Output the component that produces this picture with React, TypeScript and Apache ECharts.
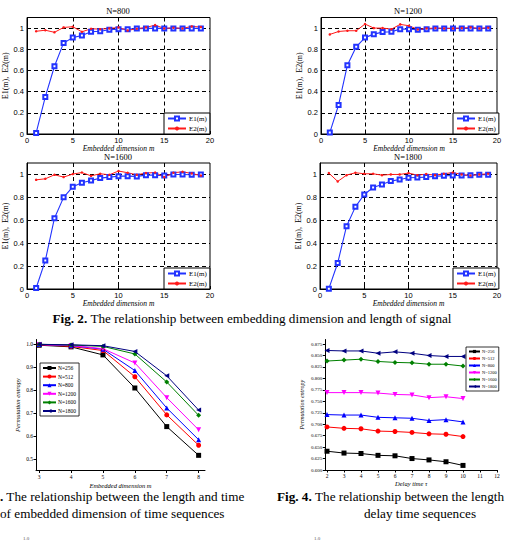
import React, { useEffect, useRef } from 'react';
import * as echarts from 'echarts';

// ---------- Data ----------
const M = [1, 2, 3, 4, 5, 6, 7, 8, 9, 10, 11, 12, 13, 14, 15, 16, 17, 18, 19];

const E1_N800 = [0.01, 0.35, 0.64, 0.86, 0.91, 0.93, 0.965, 0.97, 0.985, 0.99, 0.99, 0.995, 0.997, 0.997, 0.997, 0.997, 0.997, 0.997, 0.997];
const E2_N800 = [0.97, 0.98, 0.96, 1.006, 1.013, 0.965, 0.994, 0.99, 0.997, 1.006, 0.978, 0.994, 1.006, 1.028, 0.997, 1.003, 0.997, 1.016, 1.01];

const E1_N1200 = [0.013, 0.275, 0.65, 0.823, 0.91, 0.943, 0.962, 0.965, 0.99, 0.99, 0.985, 0.99, 0.997, 0.997, 0.997, 0.997, 0.997, 0.997, 0.997];
const E2_N1200 = [0.94, 0.968, 0.975, 0.975, 1.038, 1.0, 1.0, 0.99, 1.035, 1.022, 0.987, 0.997, 1.0, 0.997, 0.997, 1.0, 1.006, 0.997, 1.003];

const E1_N1600 = [0.009, 0.248, 0.618, 0.8, 0.892, 0.927, 0.948, 0.968, 0.977, 0.985, 0.985, 0.983, 0.994, 0.994, 0.99, 1.0, 1.0, 0.997, 1.0];
const E2_N1600 = [0.953, 0.962, 0.997, 0.977, 1.003, 1.017, 0.988, 1.006, 0.997, 1.03, 1.015, 0.997, 1.012, 1.017, 0.977, 1.015, 1.023, 1.009, 0.99];

const E1_N1800 = [0.003, 0.227, 0.548, 0.717, 0.825, 0.886, 0.913, 0.942, 0.956, 0.971, 0.974, 0.977, 0.985, 0.988, 0.991, 0.991, 0.994, 0.997, 0.997];
const E2_N1800 = [1.012, 0.939, 0.994, 1.015, 1.006, 1.006, 0.994, 1.0, 1.0, 1.012, 0.994, 1.003, 0.994, 1.006, 1.017, 1.0, 0.991, 1.0, 1.006];

const DIM = [3, 4, 5, 6, 7, 8];
const TAU = [2, 3, 4, 5, 6, 7, 8, 9, 10];
const N_NAMES = ['N=256', 'N=512', 'N=800', 'N=1200', 'N=1600', 'N=1800'];

const PE_DIM_256 = [0.995, 0.988, 0.953, 0.809, 0.641, 0.516];
const PE_DIM_512 = [0.997, 0.99, 0.972, 0.858, 0.692, 0.56];
const PE_DIM_800 = [0.998, 0.993, 0.978, 0.885, 0.722, 0.584];
const PE_DIM_1200 = [0.998, 0.994, 0.98, 0.918, 0.767, 0.627];
const PE_DIM_1600 = [0.999, 0.996, 0.99, 0.957, 0.835, 0.69];
const PE_DIM_1800 = [0.999, 0.997, 0.993, 0.968, 0.862, 0.713];

const PE_TAU_256 = [0.641, 0.637, 0.636, 0.632, 0.631, 0.625, 0.622, 0.618, 0.61];
const PE_TAU_512 = [0.694, 0.691, 0.69, 0.685, 0.684, 0.682, 0.679, 0.678, 0.673];
const PE_TAU_800 = [0.721, 0.72, 0.72, 0.715, 0.714, 0.713, 0.708, 0.71, 0.705];
const PE_TAU_1200 = [0.769, 0.769, 0.769, 0.768, 0.765, 0.764, 0.758, 0.76, 0.756];
const PE_TAU_1600 = [0.838, 0.84, 0.842, 0.837, 0.835, 0.834, 0.831, 0.831, 0.827];
const PE_TAU_1800 = [0.861, 0.86, 0.86, 0.855, 0.858, 0.855, 0.85, 0.848, 0.848];

const FIG2_X_TICKS = [0, 5, 10, 15, 20];
const FIG3_X_TICKS = [3, 4, 5, 6, 7, 8];
const FIG3_Y_TICKS = [0.5, 0.6, 0.7, 0.8, 0.9, 1.0];
const FIG4_X_TICKS = [2, 3, 4, 5, 6, 7, 8, 9, 10, 11, 12];
const FIG4_Y_TICKS = [0.6, 0.625, 0.65, 0.675, 0.7, 0.725, 0.75, 0.775, 0.8, 0.825, 0.85, 0.875];

// ---------- Styles ----------
const SERIF = "'Liberation Serif', 'Times New Roman', serif";
const SANS = "'Liberation Sans', Arial, sans-serif";
const N_COLORS = ['#000000', '#ff0000', '#0000ff', '#ff00ff', '#008000', '#000080'];
const N_SYMBOLS = ['rect', 'circle', 'triangle', 'triangle', 'diamond', 'triangle'];
const N_ROTATE = [0, 0, 0, 180, 0, 90];

const PANELS = [
  { title: 'N=800', e1: E1_N800, e2: E2_N800, grid: { left: 27, top: 17.5, width: 183, height: 116.5 }, legend: { left: 164, top: 113 }, tx: 118, ty: 11 },
  { title: 'N=1200', e1: E1_N1200, e2: E2_N1200, grid: { left: 321, top: 17.5, width: 176, height: 116.5 }, legend: { left: 453, top: 113 }, tx: 408, ty: 11 },
  { title: 'N=1600', e1: E1_N1600, e2: E2_N1600, grid: { left: 27, top: 163, width: 183, height: 126 }, legend: { left: 164, top: 268 }, tx: 118, ty: 157 },
  { title: 'N=1800', e1: E1_N1800, e2: E2_N1800, grid: { left: 320, top: 163, width: 177, height: 126 }, legend: { left: 453, top: 268 }, tx: 408, ty: 157 },
];

export default function App() {
  const ref = useRef<HTMLDivElement>(null);

  useEffect(() => {
    if (!ref.current) return;
    const chart = echarts.init(ref.current, null, { renderer: 'svg' });

    const grids: any[] = [];
    const xAxes: any[] = [];
    const yAxes: any[] = [];
    const series: any[] = [];
    const legends: any[] = [];
    const graphics: any[] = [];

    PANELS.forEach((p, i) => {
      grids.push({ ...p.grid, show: true, borderColor: '#000', borderWidth: 1, backgroundColor: '#fff' });
      xAxes.push({
        gridIndex: i, type: 'value', min: 0, max: 20, interval: 5,
        name: 'Embedded dimension m', nameLocation: 'middle', nameGap: 7,
        nameTextStyle: { fontFamily: SERIF, fontStyle: 'italic', fontWeight: 'normal', fontSize: 7.5, color: '#000', verticalAlign: 'top' },
        axisLine: { show: true, lineStyle: { color: '#000', width: 1 } },
        axisTick: { show: true, inside: true, length: 3, lineStyle: { color: '#000' } },
        axisLabel: { fontSize: 7.5, color: '#000', fontFamily: SANS, margin: 2, customValues: FIG2_X_TICKS },
        splitLine: { show: true, showMinLine: false, showMaxLine: false, lineStyle: { color: '#000', type: [4, 3], width: 1 } },
      });
      yAxes.push({
        gridIndex: i, type: 'value', min: 0, max: 1.1, interval: 0.2,
        name: 'E1(m),  E2(m)', nameLocation: 'middle', nameGap: 15,
        nameTextStyle: { fontFamily: SERIF, fontWeight: 'normal', fontSize: 8, color: '#000' },
        axisLine: { show: true, lineStyle: { color: '#000', width: 1 } },
        axisTick: { show: true, inside: true, length: 3, lineStyle: { color: '#000' } },
        axisLabel: {
          fontSize: 7.5, color: '#000', fontFamily: SANS, margin: 3, showMaxLabel: false,
          formatter: (v: number) => (v > 1.05 ? '' : v === 0 ? '0' : Math.abs(v - 1) < 1e-9 ? '1' : v.toFixed(1)),
        },
        splitLine: { show: true, showMinLine: false, showMaxLine: false, lineStyle: { color: '#000', type: [4, 3], width: 1 } },
      });
      series.push({
        type: 'line', name: 'E1(m)', xAxisIndex: i, yAxisIndex: i,
        data: M.map((m, j) => [m, p.e1[j]]),
        symbol: 'emptyRect', symbolSize: 4,
        lineStyle: { color: '#2233ff', width: 1.1 },
        itemStyle: { color: '#2233ff', borderWidth: 0.9 },
      });
      series.push({
        type: 'line', name: 'E2(m)', xAxisIndex: i, yAxisIndex: i,
        data: M.map((m, j) => [m, p.e2[j]]),
        symbol: 'circle', symbolSize: 2.5,
        lineStyle: { color: '#ff1a1a', width: 1 },
        itemStyle: { color: '#ff1a1a' },
      });
      legends.push({
        data: ['E1(m)', 'E2(m)'], orient: 'vertical', left: p.legend.left, top: p.legend.top,
        itemWidth: 18, itemHeight: 5, itemGap: 3, padding: [2, 3, 2, 3],
        backgroundColor: '#fff', borderColor: '#000', borderWidth: 1, borderRadius: 0,
        textStyle: { fontFamily: SERIF, fontSize: 7, color: '#000', padding: [0, 0, 0, -2] },
      });
      graphics.push({
        type: 'text', x: p.tx, y: p.ty,
        style: { text: p.title, align: 'center', verticalAlign: 'middle', fontFamily: SERIF, fontSize: 8.5, fill: '#000' },
      });
    });

    // Fig. 3
    const g3 = grids.length;
    grids.push({ left: 36, top: 339.5, width: 169, height: 131 });
    xAxes.push({
      gridIndex: g3, type: 'value', min: 2.9, max: 8.2,
      name: 'Embedded dimension m', nameLocation: 'middle', nameGap: 11,
      nameTextStyle: { fontFamily: SERIF, fontStyle: 'italic', fontSize: 6.5, color: '#000' },
      axisLine: { show: true, lineStyle: { color: '#000', width: 1 } },
      axisTick: { show: true, length: 2.5, customValues: FIG3_X_TICKS, lineStyle: { color: '#000' } },
      axisLabel: { fontSize: 5.5, color: '#000', fontFamily: SERIF, margin: 3, customValues: FIG3_X_TICKS },
      splitLine: { show: false },
    });
    yAxes.push({
      gridIndex: g3, type: 'value', min: 0.45, max: 1.02,
      name: 'Permutation entropy', nameLocation: 'middle', nameGap: 15,
      nameTextStyle: { fontFamily: SERIF, fontStyle: 'italic', fontSize: 6.5, color: '#000' },
      axisLine: { show: true, lineStyle: { color: '#000', width: 1 } },
      axisTick: { show: true, length: 2.5, customValues: FIG3_Y_TICKS, lineStyle: { color: '#000' } },
      axisLabel: { fontSize: 5.5, color: '#000', fontFamily: SERIF, margin: 3, customValues: FIG3_Y_TICKS, formatter: (v: number) => v.toFixed(1) },
      splitLine: { show: false },
    });
    const dimData = [PE_DIM_256, PE_DIM_512, PE_DIM_800, PE_DIM_1200, PE_DIM_1600, PE_DIM_1800];
    dimData.forEach((arr, k) => {
      series.push({
        type: 'line', name: N_NAMES[k], xAxisIndex: g3, yAxisIndex: g3,
        data: DIM.map((d, j) => [d, arr[j]]),
        symbol: N_SYMBOLS[k], symbolRotate: N_ROTATE[k], symbolSize: 5,
        lineStyle: { color: N_COLORS[k], width: 1 },
        itemStyle: { color: N_COLORS[k] },
      });
    });
    legends.push({
      data: N_NAMES, orient: 'vertical', left: 40, top: 363,
      itemWidth: 13, itemHeight: 5, itemGap: 2.6, padding: [2, 3, 2, 2],
      backgroundColor: '#fff', borderColor: '#000', borderWidth: 0.8, borderRadius: 0,
      textStyle: { fontFamily: SERIF, fontSize: 5.5, color: '#000', padding: [0, 0, 0, -3] },
    });

    // Fig. 4
    const g4 = grids.length;
    grids.push({ left: 325.3, top: 339.5, width: 171.7, height: 130.5 });
    xAxes.push({
      gridIndex: g4, type: 'value', min: 1.9, max: 12,
      name: 'Delay time τ', nameLocation: 'middle', nameGap: 10,
      nameTextStyle: { fontFamily: SERIF, fontStyle: 'italic', fontSize: 6.5, color: '#000' },
      axisLine: { show: true, lineStyle: { color: '#000', width: 1 } },
      axisTick: { show: true, length: 2.5, customValues: FIG4_X_TICKS, lineStyle: { color: '#000' } },
      axisLabel: { fontSize: 5.5, color: '#000', fontFamily: SERIF, margin: 3, customValues: FIG4_X_TICKS },
      splitLine: { show: false },
    });
    yAxes.push({
      gridIndex: g4, type: 'value', min: 0.6, max: 0.885,
      name: 'Permutation entropy', nameLocation: 'middle', nameGap: 20,
      nameTextStyle: { fontFamily: SERIF, fontStyle: 'italic', fontSize: 6, color: '#000' },
      axisLine: { show: true, lineStyle: { color: '#000', width: 1 } },
      axisTick: { show: true, length: 2.5, customValues: FIG4_Y_TICKS, lineStyle: { color: '#000' } },
      axisLabel: { fontSize: 5, color: '#000', fontFamily: SERIF, margin: 3, customValues: FIG4_Y_TICKS, formatter: (v: number) => v.toFixed(3) },
      splitLine: { show: false },
    });
    const tauData = [PE_TAU_256, PE_TAU_512, PE_TAU_800, PE_TAU_1200, PE_TAU_1600, PE_TAU_1800];
    tauData.forEach((arr, k) => {
      series.push({
        type: 'line', name: N_NAMES[k], xAxisIndex: g4, yAxisIndex: g4,
        data: TAU.map((t, j) => [t, arr[j]]),
        symbol: N_SYMBOLS[k], symbolRotate: N_ROTATE[k], symbolSize: 5,
        lineStyle: { color: N_COLORS[k], width: 1 },
        itemStyle: { color: N_COLORS[k] },
      });
    });
    legends.push({
      data: N_NAMES, orient: 'vertical', left: 466, top: 347,
      itemWidth: 11, itemHeight: 4, itemGap: 2, padding: [2, 2, 2, 2],
      backgroundColor: '#fff', borderColor: '#000', borderWidth: 0.8, borderRadius: 0,
      textStyle: { fontFamily: SERIF, fontSize: 4.5, color: '#000', padding: [0, 0, 0, -3] },
    });

    // Captions
    const capFont = { fontFamily: SERIF, fontSize: 13.2, fill: '#000' };
    graphics.push({
      type: 'text', x: 252, y: 318,
      style: {
        text: '{b|Fig. 2.} The relationship between embedding dimension and length of signal',
        align: 'center', verticalAlign: 'middle', ...capFont,
        rich: { b: { fontWeight: 'bold', fontFamily: SERIF, fontSize: 13.2 } },
      },
    });
    graphics.push({
      type: 'text', x: 0, y: 496,
      style: {
        text: '{b|.} The relationship between the length and time',
        align: 'left', verticalAlign: 'middle', ...capFont,
        rich: { b: { fontWeight: 'bold', fontFamily: SERIF, fontSize: 13.2 } },
      },
    });
    graphics.push({
      type: 'text', x: 0, y: 513,
      style: { text: 'of embedded dimension of time sequences', align: 'left', verticalAlign: 'middle', ...capFont },
    });
    graphics.push({
      type: 'text', x: 504, y: 496,
      style: {
        text: '{b|Fig. 4.} The relationship between the length',
        align: 'right', verticalAlign: 'middle', ...capFont,
        rich: { b: { fontWeight: 'bold', fontFamily: SERIF, fontSize: 13.2 } },
      },
    });
    graphics.push({
      type: 'text', x: 420, y: 513,
      style: { text: 'delay time sequences', align: 'center', verticalAlign: 'middle', ...capFont },
    });
    graphics.push({
      type: 'text', x: 23, y: 538,
      style: { text: '1.0', align: 'left', verticalAlign: 'middle', fontFamily: SERIF, fontSize: 5, fill: '#555' },
    });
    graphics.push({
      type: 'text', x: 314, y: 538,
      style: { text: '1.0', align: 'left', verticalAlign: 'middle', fontFamily: SERIF, fontSize: 5, fill: '#555' },
    });

    chart.setOption({
      animation: false,
      backgroundColor: '#fff',
      grid: grids,
      xAxis: xAxes,
      yAxis: yAxes,
      series,
      legend: legends,
      graphic: graphics,
    });

    return () => chart.dispose();
  }, []);

  return (
    <div
      ref={ref}
      style={{ position: 'absolute', left: 0, top: 0, width: 505, height: 540, background: '#fff' }}
    />
  );
}
